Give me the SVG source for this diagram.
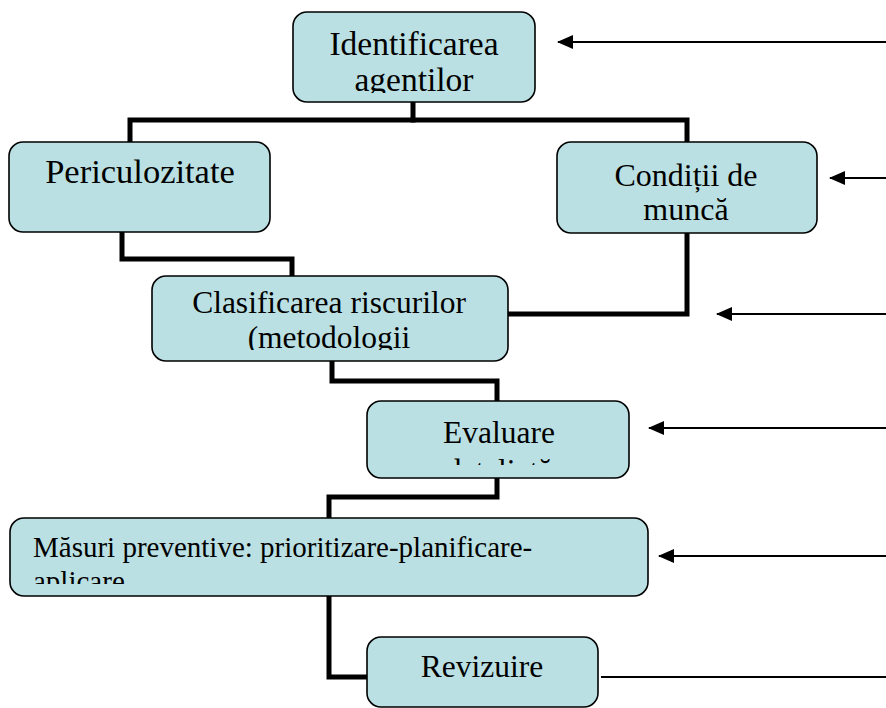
<svg xmlns="http://www.w3.org/2000/svg" width="886" height="708" viewBox="0 0 886 708">
<style>
.box{fill:#BBE0E3;stroke:#000;stroke-width:1.6}
.t{font-family:"Liberation Serif","Times New Roman",serif;fill:#000;text-anchor:middle}
.lk{fill:none;stroke:#000;stroke-width:5;stroke-linejoin:miter;stroke-linecap:square}
.ar{fill:none;stroke:#000;stroke-width:2}
</style>
<defs>
<marker id="ah" markerUnits="userSpaceOnUse" markerWidth="16" markerHeight="14" refX="15" refY="7" orient="auto" viewBox="0 0 16 14">
<path d="M0,0 L16,7 L0,14 Z" fill="#000"/>
</marker>
<clipPath id="c1"><rect x="293" y="12" width="242" height="81"/></clipPath>
<clipPath id="c4"><rect x="152" y="275" width="356" height="75"/></clipPath>
<clipPath id="c5"><rect x="367" y="401" width="262" height="64"/></clipPath>
<clipPath id="c6"><rect x="10" y="518" width="638" height="66"/></clipPath>
</defs>
<g id="connectors">
<path class="lk" d="M413,102 V120 H130 V142"/>
<path class="lk" d="M413,120 H687 V142"/>
<path class="lk" d="M122,232 V259 H292 V275"/>
<path class="lk" d="M687,233 V314 H508"/>
<path class="lk" d="M332,361 V381 H497 V497 H329 V518"/>
<path class="lk" d="M329,596 V677 H367"/>
<line class="ar" x1="886" y1="42" x2="558" y2="42" marker-end="url(#ah)"/>
<line class="ar" x1="886" y1="178" x2="830" y2="178" marker-end="url(#ah)"/>
<line class="ar" x1="886" y1="314" x2="717" y2="314" marker-end="url(#ah)"/>
<line class="ar" x1="886" y1="428" x2="649" y2="428" marker-end="url(#ah)"/>
<line class="ar" x1="886" y1="556" x2="659" y2="556" marker-end="url(#ah)"/>
<line class="ar" x1="601" y1="677" x2="886" y2="677"/>
</g>
<g id="n1">
<rect class="box" x="293" y="12" width="242" height="90" rx="14"/>
<g clip-path="url(#c1)">
<text class="t" x="414" y="55" font-size="33.5">Identificarea</text>
<text class="t" x="414" y="91" font-size="33.5">agentilor</text>
</g>
</g>
<g id="n2">
<rect class="box" x="9" y="142" width="261" height="90" rx="14"/>
<text class="t" x="140" y="183" font-size="34.5">Periculozitate</text>
</g>
<g id="n3">
<rect class="box" x="557" y="142" width="260" height="91" rx="14"/>
<text class="t" x="686" y="186" font-size="32">Condiții de</text>
<text class="t" x="686" y="220" font-size="32">muncă</text>
</g>
<g id="n4">
<rect class="box" x="152" y="276" width="356" height="85" rx="14"/>
<g clip-path="url(#c4)">
<text class="t" x="329" y="313" font-size="31.5">Clasificarea riscurilor</text>
<text class="t" x="329" y="348" font-size="31.5">(metodologii</text>
</g>
</g>
<g id="n5">
<rect class="box" x="367" y="401" width="262" height="77" rx="14"/>
<g clip-path="url(#c5)">
<text class="t" x="499" y="443" font-size="31.5">Evaluare</text>
<text class="t" x="499" y="481" font-size="31.5">detaliată</text>
</g>
</g>
<g id="n6">
<rect class="box" x="10" y="518" width="638" height="78" rx="14"/>
<g clip-path="url(#c6)">
<text class="t" x="33" y="557" font-size="29" style="text-anchor:start">Măsuri preventive: prioritizare-planificare-</text>
<text class="t" x="33" y="591" font-size="29" style="text-anchor:start">aplicare</text>
</g>
</g>
<g id="n7">
<rect class="box" x="367" y="637" width="231" height="70" rx="14"/>
<text class="t" x="482" y="677" font-size="31.5">Revizuire</text>
</g>
</svg>
